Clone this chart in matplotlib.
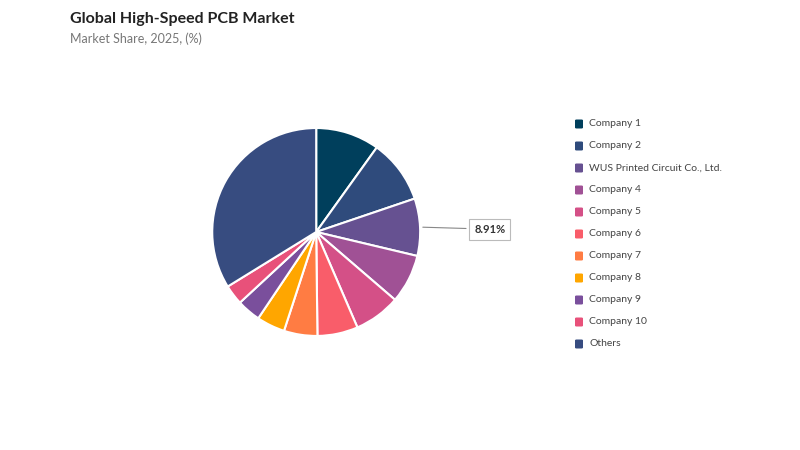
import matplotlib.pyplot as plt
import numpy as np
from matplotlib.patches import FancyBboxPatch

plt.rcParams['font.family'] = ['Lato', 'DejaVu Sans']

companies = ['Company 1', 'Company 2', 'WUS Printed Circuit Co., Ltd.', 'Company 4',
             'Company 5', 'Company 6', 'Company 7', 'Company 8', 'Company 9',
             'Company 10', 'Others']
shares = [9.9, 9.9, 8.91, 7.6, 7.2, 6.3, 5.2, 4.4, 3.7, 3.1, 33.79]
colors = ['#003f5c', '#2f4b7c', '#665191', '#a05195', '#d45087', '#f95d6a',
          '#ff7c43', '#ffa600', '#7a4f9c', '#e8517a', '#374c80']
labelled = 'WUS Printed Circuit Co., Ltd.'

fig = plt.figure(figsize=(8, 4.5), dpi=100)
fig.text(0.0875, 0.958, 'Global High-Speed PCB Market', fontsize=11.5, fontweight='bold',
         color='#222222', va='center')
fig.text(0.0875, 0.915, 'Market Share, 2025, (%)', fontsize=9, color='#777777', va='center')

ax = fig.add_axes([0.264, 0.251, 0.2625, 0.467])
wedges, _ = ax.pie(shares, colors=colors, startangle=90, counterclock=False,
                   wedgeprops=dict(edgecolor='white', linewidth=1.5))
ax.set_xlim(-1.01, 1.01)
ax.set_ylim(-1.01, 1.01)
ax.set_aspect('equal')

# callout for the highlighted company
i = companies.index(labelled)
w = wedges[i]
ang = np.deg2rad((w.theta1 + w.theta2) / 2)
x, y = np.cos(ang), np.sin(ang)
ax.annotate(f'{shares[i]:.2f}%', xy=(x, y), xytext=(1.52, y - 0.02),
            fontsize=8, fontweight='bold', color='#333333', va='center', ha='left',
            bbox=dict(boxstyle='square,pad=0.45', fc='white', ec='#bbbbbb', lw=0.8),
            arrowprops=dict(arrowstyle='-', color='#888888', lw=0.8))

# legend
for k, (name, c) in enumerate(zip(companies, colors)):
    yy = 1 - (124 + 22 * k) / 450
    fig.patches.append(FancyBboxPatch((575 / 800, yy - 4.5 / 450), 8 / 800, 9 / 450,
                                      boxstyle='round,pad=0,rounding_size=0.002',
                                      transform=fig.transFigure, fc=c, ec='none'))
    fig.text(589 / 800, yy, name, fontsize=7.5, color='#444444', va='center')

fig.savefig('out.png', dpi=100)
